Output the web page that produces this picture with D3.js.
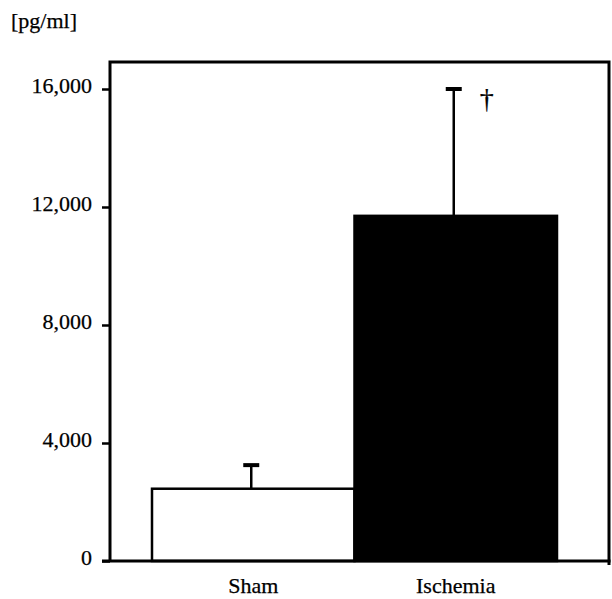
<!DOCTYPE html>
<html>
<head>
<meta charset="utf-8">
<script src="https://cdn.jsdelivr.net/npm/d3@7"></script>
<style>
  body { margin: 0; background: #fff; }
  text { font-family: "Liberation Serif", "DejaVu Serif", serif; fill: #000; stroke: #000; stroke-width: 0.25px; }
</style>
</head>
<body>
<div id="chart"></div>
<script>
var groups = ["Sham", "Ischemia"];
var means = [2450, 11700];
var errors = [800, 4300];
var yTicks = [0, 4000, 8000, 12000, 16000];
var fills = ["#fff", "#000"];

var width = 612, height = 599;
var margin = { top: 62, right: 3, bottom: 38, left: 110 };

var svg = d3.select('#chart').append('svg')
  .attr('width', width)
  .attr('height', height);

var yScale = d3.scaleLinear()
  .domain([0, 17000])
  .range([561, 561 - 17000 / 4000 * 118]);

var xScale = d3.scaleBand()
  .domain(groups)
  .range([152, 557])
  .paddingInner(0);

// frame
svg.append('path')
  .attr('d', 'M' + margin.left + ',' + yScale(0) + 'V' + margin.top + 'H' + (width - margin.right) + 'V' + (yScale(0) + 4))
  .attr('fill', 'none')
  .attr('stroke', '#000')
  .attr('stroke-width', 3);

// bars
svg.selectAll('rect.bar').data(groups)
  .enter().append('rect')
  .attr('class', 'bar')
  .attr('x', function(d) { return xScale(d); })
  .attr('width', xScale.bandwidth())
  .attr('y', function(d, i) { return yScale(means[i]); })
  .attr('height', function(d, i) { return yScale(0) - yScale(means[i]); })
  .attr('fill', function(d, i) { return fills[i]; })
  .attr('stroke', '#000')
  .attr('stroke-width', 2.5);

// error bars (upper only)
var err = svg.selectAll('g.err').data(groups)
  .enter().append('g')
  .attr('class', 'err')
  .attr('transform', function(d) { return 'translate(' + (xScale(d) + xScale.bandwidth() / 2 - 2) + ',0)'; });

err.append('line')
  .attr('x1', 0).attr('x2', 0)
  .attr('y1', function(d, i) { return yScale(means[i]); })
  .attr('y2', function(d, i) { return yScale(means[i] + errors[i]); })
  .attr('stroke', '#000')
  .attr('stroke-width', 2.5);

err.append('line')
  .attr('x1', -8).attr('x2', 8)
  .attr('y1', function(d, i) { return yScale(means[i] + errors[i]); })
  .attr('y2', function(d, i) { return yScale(means[i] + errors[i]); })
  .attr('stroke', '#000')
  .attr('stroke-width', 4);

// dagger
svg.append('text')
  .attr('x', xScale('Ischemia') + xScale.bandwidth() / 2 + 31)
  .attr('y', yScale(means[1] + errors[1]) + 19)
  .attr('text-anchor', 'middle')
  .style('font-size', '28px')
  .text('\u2020');

// y axis
var yAxis = d3.axisLeft(yScale)
  .tickValues(yTicks)
  .tickSize(8)
  .tickPadding(10)
  .tickFormat(d3.format(','));

var yGuide = svg.append('g')
  .attr('transform', 'translate(' + margin.left + ',0)')
  .call(yAxis);
yGuide.select('.domain').remove();
yGuide.selectAll('.tick line').attr('stroke-width', 2.5);
yGuide.selectAll('.tick text')
  .style('font-size', '22px')
  .style('font-family', '"Liberation Serif", serif')
  .attr('dy', '0.15em');

// x axis labels
var xGuide = svg.append('g')
  .attr('transform', 'translate(0,' + yScale(0) + ')')
  .call(d3.axisBottom(xScale).tickSize(0).tickPadding(16));
xGuide.select('.domain').remove();
xGuide.selectAll('.tick text')
  .style('font-size', '22px')
  .style('font-family', '"Liberation Serif", serif');

svg.append('line')
  .attr('x1', 102).attr('x2', width - margin.right + 1.5)
  .attr('y1', yScale(0)).attr('y2', yScale(0))
  .attr('stroke', '#000')
  .attr('stroke-width', 3);

// unit label
svg.append('text')
  .attr('x', 11)
  .attr('y', 28)
  .style('font-size', '22px')
  .text('[pg/ml]');
</script>
</body>
</html>
